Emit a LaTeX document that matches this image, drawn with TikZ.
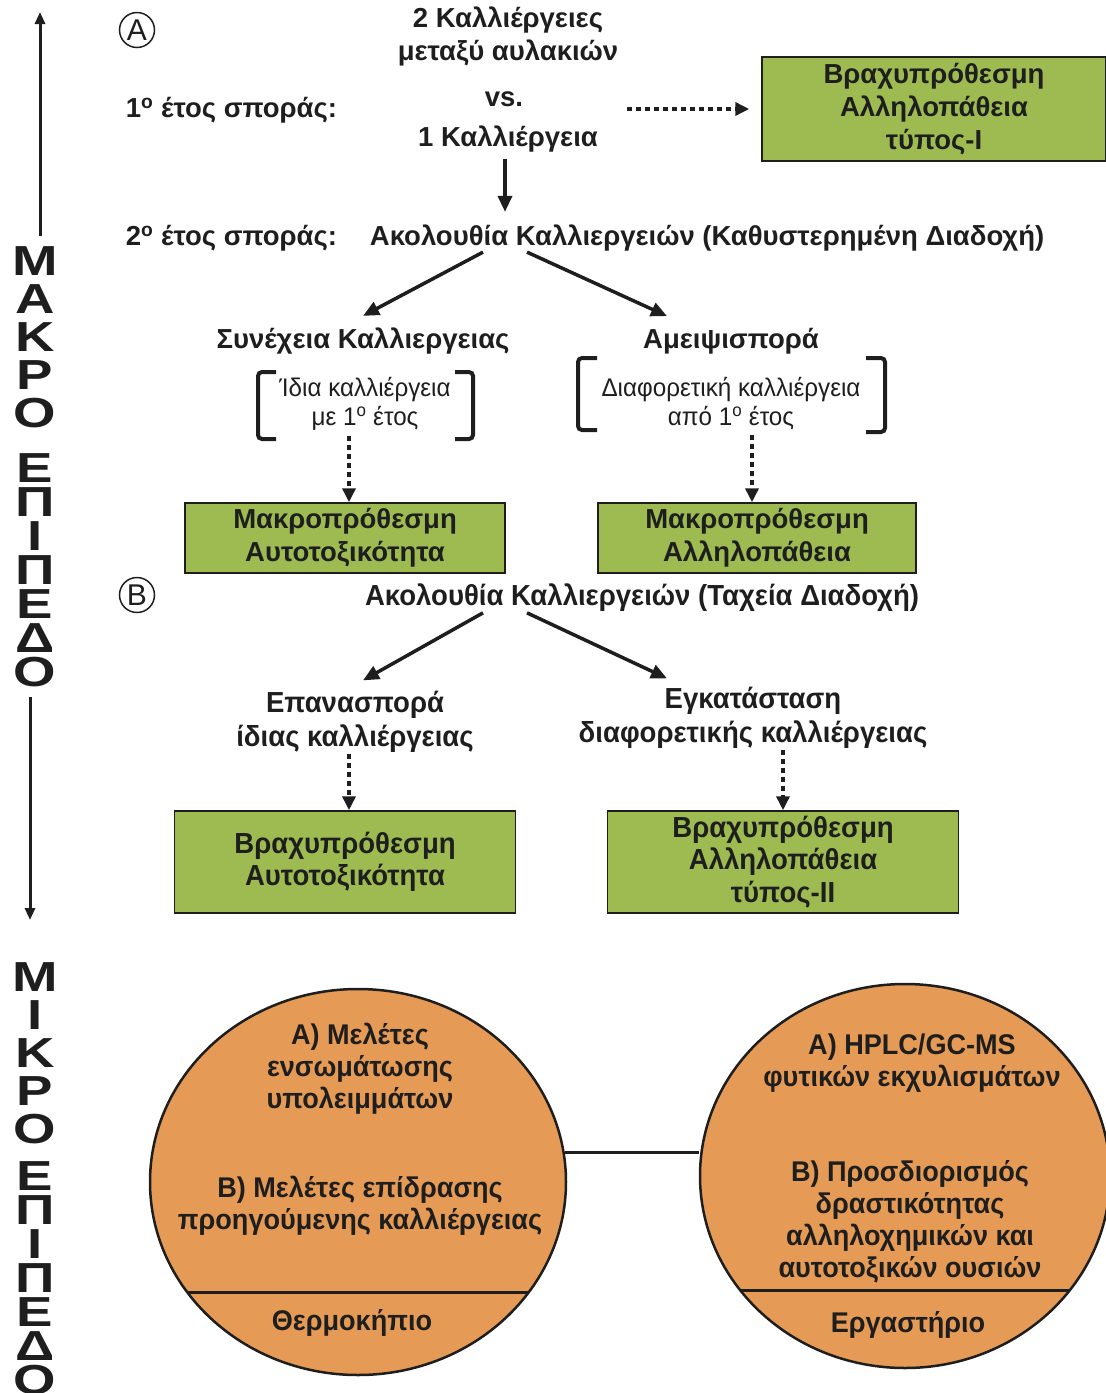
\documentclass[tikz,border=0pt]{standalone}
\usepackage{fontspec}
\setmainfont{Liberation Sans}
\newfontfamily\narrowfont[FakeStretch=0.95]{Liberation Sans}
\newfontfamily\widefont[FakeStretch=1.3]{Liberation Sans}
\usetikzlibrary{arrows.meta,shapes.geometric}
\definecolor{boxgreen}{RGB}{158,187,82}
\definecolor{discorange}{RGB}{229,155,86}
\definecolor{ink}{RGB}{30,30,30}

\begin{document}
\begin{tikzpicture}[x=1pt,y=1pt,yscale=-1,xscale=1,
    ann/.style={text=ink,font=\fontsize{27.5}{33}\selectfont\bfseries,align=center,inner sep=0.75pt},
    annB/.style={text=ink,font=\narrowfont\fontsize{29}{34}\selectfont\bfseries,align=center,inner sep=0.75pt},
    discnote/.style={text=ink,font=\narrowfont\fontsize{28.5}{32}\selectfont\bfseries,align=center,inner sep=0.75pt},
    note/.style={text=ink,font=\narrowfont\fontsize{25.5}{29}\selectfont,align=center,inner sep=0.75pt},
    levelword/.style={text=ink,font=\widefont\fontsize{42}{38}\selectfont\bfseries,align=center,inner sep=0pt},
    greenbox/.style={draw=ink,line width=1.5,fill=boxgreen,text=ink,align=center,font=\fontsize{27.5}{33}\selectfont\bfseries},
    disc/.style={ellipse,draw=ink,line width=2.5,fill=discorange,inner sep=0pt},
    tag/.style={circle,draw=ink,line width=1.5,minimum size=35,inner sep=0pt,font=\fontsize{30}{30}\selectfont,text=ink},
    arr/.style={draw=ink,line width=3.5,-{Triangle[length=16,width=14]}},
    dotarr/.style={draw=ink,line width=4,dash pattern=on 5 off 4,-{Triangle[length=14,width=13]}},
    levelarr/.style={draw=ink,line width=3,-{Triangle[length=12,width=10]}},
    bracket/.style={draw=ink,line width=4,rounded corners=4}]
  \useasboundingbox (0,0) rectangle (1106,1393);

  % Level labels
  \node[levelword] (makro) at (35,337) {Μ\\Α\\Κ\\Ρ\\Ο};
  \node[levelword,font=\widefont\fontsize{42}{34}\selectfont\bfseries] (epipedoA) at (35,570) {Ε\\Π\\Ι\\Π\\Ε\\Δ\\Ο};
  \node[levelword] (mikro) at (35,1053) {Μ\\Ι\\Κ\\Ρ\\Ο};
  \node[levelword,font=\widefont\fontsize{42}{34}\selectfont\bfseries] (epipedoB) at (35,1278) {Ε\\Π\\Ι\\Π\\Ε\\Δ\\Ο};
  \coordinate (uptip) at (40,12);
  \coordinate (downtip) at (30,920);
  \draw[levelarr,shorten <=10] (makro.north -| uptip) -- (uptip);
  \draw[levelarr,shorten <=10] (epipedoA.south -| downtip) -- (downtip);

  % Part A
  \node[tag] (tagA) at (137,30) {A};
  \node[ann] (two) at (508,20) {2 Καλλιέργειες};
  \node[ann] (between) at (508,53) {μεταξύ αυλακιών};
  \node[ann] (vs) at (504,99) {vs.};
  \node[ann] (one) at (508,139) {1 Καλλιέργεια};
  \node[ann,anchor=west] (yearI) at (125,110) {1\textsuperscript{ο} έτος σποράς:};
  \node[greenbox,minimum width=344,minimum height=104] (boxI) at (934,109) {Βραχυπρόθεσμη\\Αλληλοπάθεια\\τύπος-Ι};
  \node[ann,anchor=west] (yearII) at (125,238) {2\textsuperscript{ο} έτος σποράς:};
  \node[ann] (delayed) at (707,238) {Ακολουθία Καλλιεργειών (Καθυστερημένη Διαδοχή)};
  \node[ann] (cont) at (363,341) {Συνέχεια Καλλιεργειας};
  \node[ann] (rot) at (731,341) {Αμειψισπορά};
  \node[note] (same) at (365,404) {Ίδια καλλιέργεια\\με 1\textsuperscript{ο} έτος};
  \node[note] (diff) at (731,404) {Διαφορετική καλλιέργεια\\από 1\textsuperscript{ο} έτος};
  \node[greenbox,minimum width=320,minimum height=70] (longAuto) at (345,538) {Μακροπρόθεσμη\\Αυτοτοξικότητα};
  \node[greenbox,minimum width=318,minimum height=70] (longAllelo) at (757,538) {Μακροπρόθεσμη\\Αλληλοπάθεια};

  % Brackets
  \draw[bracket] (276,372) -- (258,372) -- (258,439) -- (276,439);
  \draw[bracket] (455,372) -- (473,372) -- (473,439) -- (455,439);
  \draw[bracket] (597,358) -- (578,358) -- (578,430) -- (597,430);
  \draw[bracket] (866,358) -- (885,358) -- (885,432) -- (866,432);

  \coordinate (dotstart) at (627,109);
  \draw[dotarr,shorten >=12] (dotstart) -- (boxI.west);
  \draw[arr,shorten <=6,shorten >=12] (one.south -| 505,0) -- (delayed.north -| 505,0);
  \draw[arr] (delayed.south -| 483,0) -- ([yshift=-11]cont.north);
  \draw[arr] (delayed.south -| 527,0) -- ([xshift=-64,yshift=-11]rot.north);
  \draw[dotarr,shorten <=4] (same.south -| 349,0) -- (longAuto.north -| 349,0);
  \draw[dotarr,shorten <=4] (diff.south -| 752,0) -- (longAllelo.north -| 752,0);

  % Part B
  \node[tag] (tagB) at (137,595) {B};
  \node[annB] (fast) at (642,598) {Ακολουθία Καλλιεργειών (Ταχεία Διαδοχή)};
  \node[annB] (resow) at (355,722) {Επανασπορά\\ίδιας καλλιέργειας};
  \node[annB] (estab) at (753,718) {Εγκατάσταση\\διαφορετικής καλλιέργειας};
  \node[greenbox,font=\narrowfont\fontsize{29}{32}\selectfont\bfseries,minimum width=341,minimum height=102] (shortAuto) at (345,862) {Βραχυπρόθεσμη\\Αυτοτοξικότητα};
  \node[greenbox,font=\narrowfont\fontsize{29}{32.5}\selectfont\bfseries,minimum width=351,minimum height=102] (shortAllelo) at (783,862) {Βραχυπρόθεσμη\\Αλληλοπάθεια\\τύπος-ΙΙ};
  \draw[arr] (fast.south -| 483,0) -- ([xshift=8,yshift=-10]resow.north);
  \draw[arr] (fast.south -| 527,0) -- ([xshift=-86,yshift=-8]estab.north);
  \draw[dotarr,shorten <=0] (resow.south -| 349,0) -- (shortAuto.north -| 349,0);
  \draw[dotarr,shorten <=0] (estab.south -| 783,0) -- (shortAllelo.north -| 783,0);

  % Micro level
  \node[disc,minimum width=416,minimum height=386] (greenhouse) at (358,1182) {};
  \node[disc,minimum width=410,minimum height=384] (lab) at (905,1176) {};
  \begin{scope}
    \clip (358,1182) ellipse [x radius=208, y radius=193];
    \draw[ink,line width=3] (150,1292) -- (566,1292);
  \end{scope}
  \begin{scope}
    \clip (905,1176) ellipse [x radius=205, y radius=192];
    \draw[ink,line width=3] (700,1290) -- (1110,1290);
  \end{scope}
  \draw[ink,line width=3] (greenhouse.8) -- (greenhouse.8 -| lab.west);
  \node[discnote] (ghA) at (360,1069) {A) Μελέτες\\ενσωμάτωσης\\υπολειμμάτων};
  \node[discnote] (ghB) at (360,1206) {B) Μελέτες επίδρασης\\προηγούμενης καλλιέργειας};
  \node[discnote] (ghName) at (352,1323) {Θερμοκήπιο};
  \node[discnote] (labA) at (912,1063) {A) HPLC/GC-MS\\φυτικών εκχυλισμάτων};
  \node[discnote] (labB) at (910,1222) {B) Προσδιορισμός\\δραστικότητας\\αλληλοχημικών και\\αυτοτοξικών ουσιών};
  \node[discnote] (labName) at (908,1325) {Εργαστήριο};
\end{tikzpicture}
\end{document}
